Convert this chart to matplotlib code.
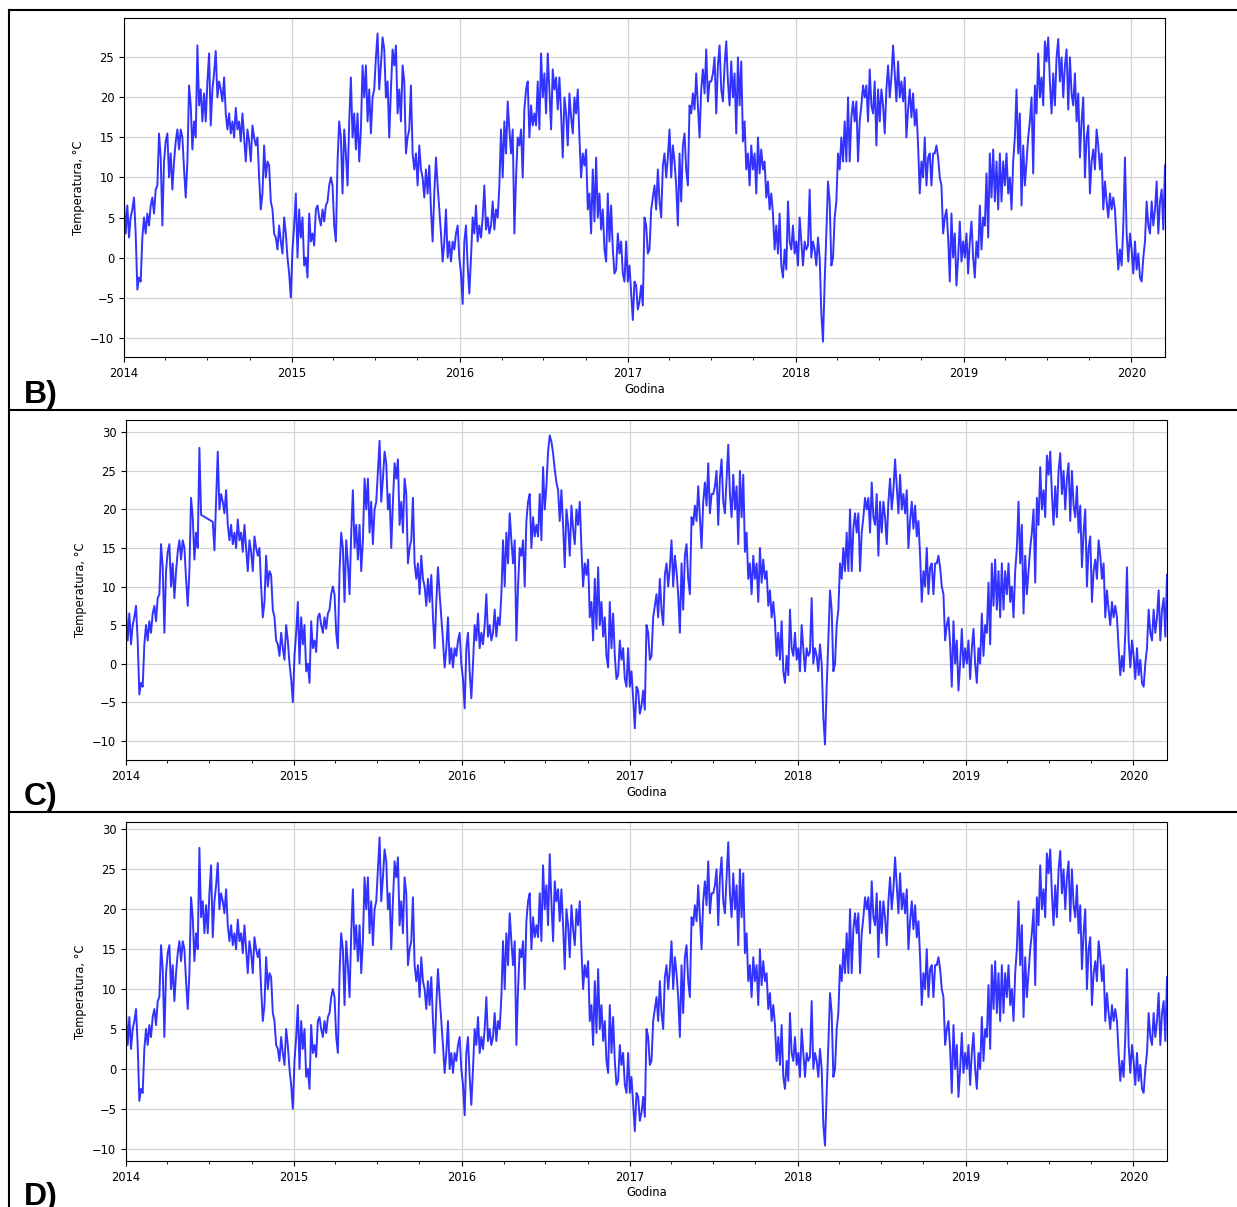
import matplotlib
matplotlib.use('Agg')
import matplotlib.pyplot as plt
import matplotlib.dates as mdates
from matplotlib.lines import Line2D
import numpy as np
import pandas as pd

# Daily mean temperature at an even step between start and end
start_date = '2014-01-01'
end_date = '2020-03-14'

temp_b = [
    # 2014 -> early 2015
    7, 3, 6.5, 2.5, 5, 6, 7.5, 3, -4, -2.5,
    -3, 2.5, 5, 3, 5.5, 4, 6.5, 7.5, 5.5, 8.5,
    9, 15.5, 12.5, 4, 12, 14.5, 15.5, 10, 13, 8.5,
    12, 14.5, 16, 13.5, 16, 15, 11, 7.5, 12, 21.5,
    19, 13.5, 17, 15, 26.5, 19, 21, 17, 20.5, 17,
    22, 25.5, 16.5, 21, 23, 25.8, 20, 22, 21, 19.5,
    22.5, 18, 16, 18, 15.5, 17, 15, 18.7, 16, 17,
    14.5, 18, 15, 12, 16, 14.5, 12, 16.5, 15, 14,
    15, 10, 6, 8, 14, 10, 12, 11.5, 7, 6,
    3, 2.5, 1, 4, 2, 0.5, 5, 3, 0, -2,
    -5, 1, 4, 8, 0, 6, 2.5, 5, -1, 0,
    -2.5, 5.5, 2, 3, 1.5, 6, 6.5, 5, 4, 6,
    4.5, 6.5, 7, 9, 10,
    # 2015 -> early 2016
    9, 4, 2, 12, 17, 15, 8, 16, 13, 9,
    17, 22.5, 15, 18, 13.5, 18, 12, 16, 24, 20,
    24, 17, 21, 15.5, 20, 21, 25, 28.0, 21, 24,
    27.5, 26, 20, 22, 15, 21, 26, 24, 26.5, 18,
    21, 17, 24, 22, 13, 15, 16, 21.5, 13, 11,
    13, 9, 14, 11, 10, 7.5, 11, 8, 11.5, 6,
    2, 8, 12.5, 9, 6, 3, -0.5, 2, 6, 0,
    2, -0.5, 2, 1, 3, 4, 0, -2, -5.8, 2,
    4, -1, -4.5, 0, 5, 3, 6.5, 2, 4, 2.5,
    5, 9, 3.5, 5, 3, 4, 7, 3.5, 6, 5,
    9, 16, 10, 17, 13, 19.5, 16, 13, 16, 3,
    10, 15, 14, 16, 10, 18.5, 21,
    # 2016 -> mid 2017
    22, 15, 19, 16.5, 18, 16.5, 22, 16, 25.5, 20,
    23, 18, 25.5, 21, 16, 23.5, 21, 22.5, 18.5, 22.5,
    18, 12.5, 20, 18, 14, 20.5, 17.5, 15.5, 20, 18,
    21, 15, 10, 13, 11.5, 13.5, 6, 8, 3, 11,
    4.5, 12.5, 5, 8, 3.5, 6, 1, -0.5, 8, 2,
    6.5, 1, -2, -1.5, 3, 0.5, 2, -2, -3, 2,
    -3, -1, -4.5, -7.8, -3, -3.5, -6.5, -5.5, -3.5, -6,
    5, 4, 0.5, 1, 6, 7.5, 9, 6, 11, 7,
    5, 11.5, 13, 10, 12.5, 16, 10, 14, 12, 9,
    4, 13, 7, 14, 15.5, 11, 9, 19, 18, 20.5,
    18.5, 23, 19, 15, 21, 23.5, 20.5, 26, 19.5, 22,
    22, 23, 25, 18, 24, 26.5, 21, 19.5, 24, 27,
    22, 19, 24.5,
    # mid 2017 -> late 2018
    20, 23, 15.5, 25, 19, 24.5, 14.5, 17, 11, 13,
    9, 14, 11, 13, 8, 15, 10.5, 13.5, 11, 12,
    7.5, 9.5, 6, 8, 5.5, 1, 4, 0.5, 5.5, -1,
    -2.5, 1, -1.5, 7, 2, 1, 4, 0.5, 2, -1,
    5, 2, -1, 2, 1, 1.5, 8.5, 0, 2, 1,
    -1, 2.5, 0, -7, -10.5, -3, 3, 9.5, 7, -1,
    0, 5, 7, 13, 11, 15, 12, 17, 12, 20,
    12, 17.5, 19.5, 17, 19.5, 12, 17, 19, 21.5, 20,
    21.5, 17, 23.5, 19, 18, 22, 14, 21, 17, 21,
    19, 15.5, 21, 24, 20, 22.5, 26.5, 23, 19.5, 24.5,
    20, 22, 19.5, 22.5, 15, 18.5, 21, 17.5, 20.5, 16.5,
    18.5, 14, 8, 12, 10, 15, 9, 12.5, 13, 9,
    13,
    # late 2018 -> March 2020
    13, 14, 12.5, 10, 9, 3, 5, 6, 2.5, -3,
    5.5, 0, 3, -3.5, 0, 4.5, -0.5, 2, 0, 3,
    -2, 2, 4.5, 0, -2.5, 2, 0, 6.5, 1, 5,
    4, 10.5, 2.5, 13, 7.5, 13.5, 7, 12, 6, 13,
    7, 12, 9, 13, 8, 10, 6, 12, 15, 21,
    13, 18, 6.5, 14, 9, 12, 15, 17, 20, 10.5,
    21.5, 18, 25.5, 20, 22.5, 19, 27, 24.5, 27.5, 22,
    18, 23, 19, 25, 27.3, 22, 25, 20, 24, 26,
    18.5, 25, 20.5, 19, 23, 17, 20.5, 12.5, 17, 20,
    10, 15, 16.5, 8, 12, 13.5, 11, 16, 14, 11,
    13, 6, 9.5, 7, 5, 8, 6, 7.5, 6, 2,
    -1.5, 1, -1, 4, 12.5, 3, -0.5, 3, 1, -2,
    2, -1.5, 0.5, -2.5, -3, 0, 2, 7, 4, 3,
    7, 4, 6, 9.5, 3, 7, 8.5, 3.5, 11.5,
]

# Panel C: same data, a gap in summer 2014 bridged by a straight line, other fixes
c_gap = ('2014-06-14', '2014-07-08')
c_changes = {
    '2014-06-09': 28.0, '2014-06-13': 19.3, '2014-07-08': 18.4,
    '2014-07-12': 14.7, '2014-07-16': 21.0, '2014-07-19': 27.5,
    '2015-07-06': 28.9,
    '2016-07-07': 27.5, '2016-07-10': 29.6, '2016-07-14': 28.8,
    '2016-07-18': 27.3, '2016-07-21': 25.2, '2016-07-25': 23.5,
    '2017-01-11': -8.4, '2017-08-02': 28.4,
}

# Panel D: small differences to B
d_changes = {
    '2014-06-09': 27.7, '2015-07-06': 29.0, '2016-07-10': 26.9,
    '2017-08-02': 28.4, '2018-03-01': -9.6,
}

panel_labels = ['B)', 'C)', 'D)']


def build_series(base, changes, gap=None):
    dates = pd.date_range(start_date, end_date, periods=len(base))
    s = pd.Series(np.array(base, dtype=float), index=dates)
    idx = dates.get_indexer(pd.to_datetime(list(changes.keys())), method='nearest')
    for i, v in zip(idx, changes.values()):
        s.iloc[i] = v
    if gap is not None:
        s[(s.index > pd.Timestamp(gap[0])) & (s.index < pd.Timestamp(gap[1]))] = np.nan
    return s.dropna()


series = [
    build_series(temp_b, {}),
    build_series(temp_b, c_changes, c_gap),
    build_series(temp_b, d_changes),
]

W, H = 1237, 1207
fig = plt.figure(figsize=(W / 100, H / 100), dpi=100)

# axes boxes in pixels: left, top, right, bottom
boxes = [(124, 18, 1165, 357), (126, 420, 1167, 760), (126, 822, 1167, 1161)]
label_base = [403, 805, 1205]

for s, box, lab, ly in zip(series, boxes, panel_labels, label_base):
    l, t, r, b = box
    ax = fig.add_axes([l / W, 1 - b / H, (r - l) / W, (b - t) / H])
    ax.plot(s.index, s.values, color='blue', alpha=0.8, lw=1.4)
    ax.set_xlim(s.index[0], s.index[-1])
    ax.margins(y=0.05)
    ax.yaxis.set_major_locator(plt.MultipleLocator(5))
    ax.xaxis.set_major_locator(mdates.YearLocator())
    ax.xaxis.set_major_formatter(mdates.DateFormatter('%Y'))
    ax.xaxis.set_minor_locator(mdates.MonthLocator(bymonth=[4, 7, 10]))
    ax.grid(True, which='major', color='#d4d4d4', lw=0.9)
    ax.tick_params(labelsize=8.3, length=3.5, width=0.8)
    ax.tick_params(which='minor', length=2, width=0.6)
    for sp in ax.spines.values():
        sp.set_linewidth(0.8)
    ax.set_xlabel('Godina', fontsize=8.3, labelpad=2)
    ax.set_ylabel('Temperatura, °C', fontsize=8.3)
    fig.text(24 / W, 1 - ly / H, lab, fontsize=23, fontweight='bold',
             family='Liberation Sans', va='baseline', ha='left')

# frame lines between the panels
for y in [10, 410, 812]:
    fig.add_artist(Line2D([8.5 / W, 1], [1 - y / H, 1 - y / H], color='black', lw=1.5))
fig.add_artist(Line2D([8.5 / W, 8.5 / W], [0, 1 - 10 / H], color='black', lw=1.5))

fig.savefig('out.png', dpi=100)
